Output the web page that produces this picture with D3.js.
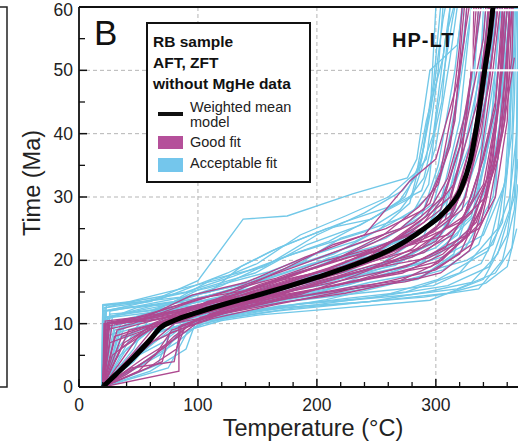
<!doctype html>
<html>
<head>
<meta charset="utf-8">
<style>
  body { margin: 0; background: #fff; font-family: 'Liberation Sans', Arial, sans-serif; }
  svg { display: block; }
  .grid line { stroke: #b5b5b5; stroke-width: 1; stroke-dasharray: 4 3; }
  .tick-label { font-size: 17.5px; fill: #222; }
  .axis-title { font-size: 23.5px; fill: #222; }
  .acc { fill: none; stroke: #72c8e8; stroke-width: 1.35; }
  .good { fill: none; stroke: #ae4990; stroke-width: 1.35; }
  .mean { fill: none; stroke: #000; stroke-width: 5; stroke-linejoin: round; }
  .leg-head { font-size: 15.5px; font-weight: bold; fill: #111; }
  .leg-text { font-size: 14.5px; fill: #222; }
</style>
<script src="https://d3js.org/d3.v7.min.js"></script>
</head>
<body>
<svg width="518" height="442"></svg>
<script>
// ticks
const tempMajor = [0, 100, 200, 300];
const tempMinor = [20, 40, 60, 80, 120, 140, 160, 180, 220, 240, 260, 280, 320, 340, 360];
const timeMajor = [0, 10, 20, 30, 40, 50, 60];
const timeMinor = [5, 15, 25, 35, 45, 55];
const gridTemp = [100, 200, 300];
const gridTime = [10, 20, 30, 40, 50];

// weighted mean model path [temperature, time]
const meanPath = [[20,0],[30,1.8],[45,4.5],[60,7.5],[68,9.3],[80,10.5],[100,11.8],[134,13.7],[152,14.6],
  [200,17.3],[230,19.2],[264,21.9],[290,25],[309,28],[321,31.2],[329,35.8],[335,42],[341,50],[345,55],[348,60]];

// acceptable fit paths
const acceptablePaths = [
  [[20,0],[21,12.5],[60,13.5],[100,16.8],[138,26.5],[175,27],[230,30.5],[276,33],[284,36],[295,50],[318,54],[323,60]],
  [[19,0],[22,11],[70,12.8],[110,14.5],[160,16],[220,18],[270,20],[300,23],[330,30],[352,45],[360,60]],
  [[20,0],[75,3],[92,9],[120,10.5],[152,11.4],[210,12.3],[295,13.7],[340,17],[360,24],[368,35],[369,60]],
  [[21,0],[24,8],[55,10.8],[100,12.5],[150,14],[200,16.5],[250,19],[290,24],[312,33],[330,48],[338,60]],
  [[20,0],[40,6],[70,10.5],[100,11.5],[160,13.5],[230,15.5],[285,17],[315,21],[335,32],[350,50],[355,60]],
  [[19,0],[20,13],[45,13.5],[90,15],[130,17.5],[180,21],[240,24.5],[270,28],[290,33],[305,45],[312,60]],
  [[20,0],[55,4],[88,8.5],[105,10],[140,11.8],[200,13],[260,14.5],[310,16],[345,19],[362,28],[366,45],[368,60]],
  [[22,0],[30,9],[65,11],[115,13.5],[170,15.5],[215,18.5],[255,22],[300,26],[322,36],[340,52],[344,60]],
  [[20,0],[23,12],[80,13.5],[120,16],[165,20],[210,23],[250,27],[280,30],[298,40],[308,55],[315,60]],
  [[20,0],[62,7],[95,10.5],[135,12.2],[190,14],[240,15.5],[290,17.5],[325,22],[348,30],[358,45],[363,60]],
  [[21,0],[35,10],[75,11.5],[105,13],[145,15],[195,17.5],[245,20.5],[282,25],[305,30],[320,42],[330,60]],
  [[20,0],[50,5],[80,9.5],[110,11],[160,12.5],[225,14],[275,15],[320,18],[352,25],[364,40],[367,60]],
  [[19,0],[21,10.5],[48,12.5],[100,14],[150,16.5],[205,20],[258,23.5],[288,27],[302,35],[316,50],[322,60]],
  [[20,0],[28,4],[60,9],[98,11],[150,13],[212,15.5],[262,18],[300,21],[332,27],[346,40],[352,55],[354,60]],
  [[20,0],[22,12],[70,14],[125,18],[168,22],[222,26],[262,28.5],[288,31],[300,38],[312,52],[318,60]],
  [[20,0],[72,5.5],[85,9],[115,11.5],[155,13],[235,14.8],[298,16],[338,19.5],[356,26],[362,38],[365,60]],
  [[21,0],[26,11.5],[58,12],[95,13.2],[140,14.8],[185,17],[232,20],[278,22.5],[310,26],[328,34],[342,46],[347,60]],
  [[20,0],[44,8],[78,10],[118,12.2],[172,14.2],[228,16.2],[268,18.5],[305,20.5],[340,24],[358,32],[364,50],[366,60]],
  [[20,0],[21,9],[52,11],[102,15.5],[148,18],[192,22.5],[236,25.5],[268,29],[286,34],[296,44],[306,58],[308,60]],
  [[20,0],[38,2],[82,7],[100,9.8],[128,11],[182,12.5],[245,13.5],[292,15],[330,16.5],[352,21],[366,30],[369,48]],
  [[20,0],[23,13],[42,13.2],[85,14.2],[112,17],[156,19],[200,24],[240,27.5],[272,31],[292,36],[302,50],[306,60]],
  [[21,0],[32,7.5],[68,10.2],[108,12],[162,14.4],[218,17],[264,20],[296,22.5],[322,29],[338,38],[350,58],[351,60]],
  [[20,0],[60,2.5],[90,6],[98,10.2],[132,11.5],[186,13.2],[252,14.2],[302,17],[344,21.5],[360,34],[366,55]],
  [[20,0],[22,11],[62,12.2],[104,14.8],[142,16.4],[178,19],[226,22],[270,25],[298,29],[314,40],[326,55],[330,60]],
  [[20,0],[30,10],[72,12.5],[118,14],[158,17.2],[196,19.5],[248,21.5],[284,24],[316,28],[334,40],[346,52],[350,60]],
  [[19,0],[46,4],[66,8.5],[100,10.8],[150,12],[208,13.8],[258,16],[306,18.5],[336,22.5],[350,30],[357,52],[358,60]],
  [[20,0],[20,12],[38,12.6],[78,13],[96,14.5],[128,15.8],[170,18.5],[214,21],[252,24.8],[278,29],[290,38],[298,48],[304,60]],
  [[20,0],[66,3.5],[80,10],[126,11.2],[168,12.8],[222,13.6],[280,14.6],[318,15.5],[350,18],[364,22],[369,32]],
  [[21,0],[24,11],[66,13],[90,13.4],[138,16],[188,19.8],[220,23.5],[246,25],[276,27],[296,30.5],[310,38],[318,46],[326,60]],
  [[20,0],[36,9.5],[64,12],[102,13],[154,15.5],[196,16.5],[252,18.2],[296,20],[326,24.5],[346,33],[354,42],[362,60]],
  [[20,0],[22,8],[60,10],[96,11],[146,13.4],[204,15],[238,17.5],[286,19.4],[318,24],[334,30.5],[344,38],[356,48],[360,60]],
  [[19,0],[20,12.8],[54,13.5],[108,15.6],[160,18.2],[202,21.2],[232,23],[262,25.8],[282,28],[294,32],[300,42],[314,58],[316,60]],
  [[20,0],[52,6.5],[70,9],[108,10.4],[166,12],[220,13],[270,14],[310,14.8],[342,16.4],[360,19],[368,25]],
  [[20,0],[24,10],[58,11.6],[106,12.4],[150,14.2],[214,16.4],[256,18.8],[300,22],[330,27],[342,36],[352,50],[358,60]],
  [[20,0],[26,12],[50,12.8],[110,15],[136,19],[162,21.5],[208,25],[246,26.5],[274,30],[288,36],[296,46],[300,60]],
  [[20,0],[46,6],[58,10.5],[112,12],[164,13.4],[206,14.8],[244,16.5],[288,18],[326,20],[348,22.5],[362,30],[368,40],[369,60]],
  [[21,0],[28,11],[62,11.8],[98,12.6],[136,13.8],[176,16],[216,17.2],[266,19.2],[304,24],[324,32],[336,44],[340,60]],
  [[20,0],[40,10.5],[76,12],[100,13.5],[142,15.2],[188,18.2],[226,21],[256,22.6],[288,24.5],[312,30],[328,38],[338,52],[342,60]],
  [[20,0],[30,3],[70,7],[90,10],[130,11.2],[174,12.6],[238,13.4],[290,14.2],[336,15.5],[356,20],[366,28],[369,36]],
  [[20,0],[22,12.5],[64,14.5],[118,17],[150,19.5],[186,24],[224,27],[260,30],[284,34],[292,42],[306,52],[312,60]],
  [[20,0],[34,6.5],[56,11],[92,12.2],[124,14.5],[166,16.8],[210,20.4],[254,21.6],[292,25.5],[308,28],[318,36],[332,48],[336,60]]
];

// good fit paths
const goodPaths = [
  [[20,0],[22,10],[60,11],[100,13],[150,15],[200,18],[250,21.5],[290,26],[315,32],[335,45],[345,60]],
  [[20,0],[40,4],[68,9.5],[100,11.5],[150,14],[205,16.5],[260,19.5],[300,23],[325,30],[345,48],[352,60]],
  [[20,0],[84,2.5],[84,9.5],[120,12],[175,15],[225,17],[275,19],[308,22],[332,30],[350,45],[358,60]],
  [[21,0],[25,10],[50,10.5],[95,14.5],[140,16.5],[190,20.5],[240,24],[278,32.5],[300,36],[318,48],[328,60]],
  [[20,0],[55,6],[80,10],[110,12],[160,14.2],[215,16],[265,18],[305,20],[338,26],[355,40],[362,60]],
  [[20,0],[30,8],[72,10.5],[105,12.8],[155,15.5],[210,18.8],[255,22],[292,27],[310,33],[326,44],[338,60]],
  [[20,0],[22,9],[45,10],[88,13],[130,15.5],[182,19],[232,22.5],[270,25],[295,29],[312,38],[324,55],[326,60]],
  [[20,0],[64,5],[78,9],[115,11.5],[170,13.8],[230,15.8],[286,17.2],[320,21],[342,30],[356,50],[360,60]],
  [[20,0],[35,6],[66,9.8],[98,12],[148,14.8],[198,17.5],[244,20],[284,23],[312,27],[330,36],[342,50],[348,60]],
  [[21,0],[24,10.2],[55,11.2],[100,14],[140,15.2],[185,18],[236,21],[276,24],[304,28],[320,38],[332,52],[336,60]],
  [[20,0],[50,2.5],[80,8],[102,11],[145,13],[195,15.2],[250,17.5],[296,19],[328,24],[348,36],[358,55],[360,60]],
  [[20,0],[28,5],[62,10],[92,12.5],[138,14.2],[180,16.8],[222,19.5],[262,23],[294,25.5],[318,30],[334,42],[344,58],[345,60]],
  [[20,0],[42,9],[70,10.2],[108,13.5],[158,16],[212,19.8],[256,24],[286,28.5],[302,32],[316,42],[322,56],[324,60]],
  [[20,0],[58,3],[82,6],[90,10],[125,12.5],[175,14.5],[228,16.5],[272,18],[306,21],[334,26],[352,36],[364,52],[365,60]],
  [[20,0],[23,10],[74,11.8],[112,13.2],[152,16.2],[202,19],[248,22.8],[282,26],[306,30],[324,40],[340,55],[342,60]],
  [[20,0],[38,7],[60,9.5],[96,11.2],[144,13.5],[192,15.8],[240,18.5],[280,20.5],[314,24],[340,32],[354,46],[356,60]],
  [[20,0],[26,10],[52,10.8],[86,12],[132,14.6],[178,17.8],[226,20.5],[268,22],[298,24.5],[322,28],[338,40],[350,56],[352,60]],
  [[20,0],[70,4],[76,8.5],[112,10.8],[165,13],[218,15],[262,16.8],[300,18.5],[330,22.5],[348,34],[360,48],[362,60]],
  [[20,0],[21,10],[58,10.4],[94,11.6],[146,14.6],[190,17],[242,19.6],[288,22],[310,25.5],[326,33],[338,44],[346,54],[350,60]],
  [[20,0],[46,5.5],[66,10],[104,12.2],[152,13.4],[202,16.6],[246,19.2],[290,21.2],[322,26],[340,36],[350,44],[356,60]],
  [[20,0],[24,9.6],[64,11],[100,12.6],[136,15.5],[172,18.6],[214,22.5],[258,25],[290,28],[304,34],[314,44],[320,54],[322,60]],
  [[20,0],[60,7],[86,9.2],[118,11.4],[162,14.5],[206,17],[254,19],[294,20.4],[322,23],[338,28],[352,38],[362,56],[364,60]],
  [[20,0],[32,9],[56,10.2],[92,12],[128,13.6],[168,15.2],[220,18],[264,21],[300,25],[318,31],[332,40],[340,50],[344,60]],
  [[21,0],[22,10.4],[48,11],[82,12.8],[122,15],[166,17.2],[208,20],[250,22],[286,24.5],[316,28.5],[330,34],[340,46],[346,56],[348,60]],
  [[20,0],[40,2],[74,6.5],[96,10.4],[134,12.2],[176,14],[224,15.4],[274,16.6],[304,18],[328,21.5],[344,28],[358,42],[362,60]],
  [[20,0],[26,7],[62,9.4],[100,10.8],[138,12.6],[186,14.6],[232,17.6],[276,20.8],[304,24.5],[324,27],[336,34],[348,50],[354,60]],
  [[20,0],[50,8],[72,10.6],[114,12.6],[148,14],[196,16],[246,18.8],[280,21.8],[308,26.5],[320,35],[328,46],[334,60]],
  [[20,0],[22,10],[40,10.2],[78,11.4],[120,13.8],[164,16.6],[208,18.4],[252,20.4],[292,23.6],[320,26],[342,30],[356,40],[366,52]],
  [[20,0],[54,4.5],[84,8],[110,11.6],[150,13.6],[188,15],[236,17],[282,19.6],[312,22.6],[336,25],[350,30],[360,42],[364,60]],
  [[20,0],[36,8],[68,10.2],[102,12],[140,14.8],[184,17.4],[234,19.4],[268,23.5],[296,27.5],[312,30],[322,37],[330,50],[332,60]],
  [[20,0],[28,10],[60,10.6],[110,12.2],[156,14.2],[204,17.8],[238,20.2],[282,22.6],[310,24],[330,27.5],[346,34],[354,46],[358,60]],
  [[20,0],[44,3],[80,4],[86,9.8],[122,11.6],[172,13.4],[224,14.8],[268,16.6],[302,19.6],[326,24],[342,32],[352,44],[358,60]]
];

const legendHead = ['RB sample', 'AFT, ZFT', 'without MgHe data'];

const svg = d3.select('svg');
const padLeft = 79, padTop = 7, padBottom = 387;

const x = d3.scaleLinear().domain([0, 380]).range([padLeft, padLeft + 380 * 1.1895]);
const y = d3.scaleLinear().domain([0, 60]).range([padBottom, padTop]);

// edge of the neighbouring panel
svg.append('path')
  .attr('d', `M0,${padTop} H7 V${padBottom} H0`)
  .attr('fill', 'none').attr('stroke', '#222').attr('stroke-width', 1.5);

svg.append('defs').append('clipPath').attr('id', 'plot')
  .append('rect').attr('x', padLeft).attr('y', padTop).attr('width', 518 - padLeft).attr('height', padBottom - padTop);

// grid
const grid = svg.append('g').attr('class', 'grid');
grid.selectAll('.gx').data(gridTemp).enter().append('line')
  .attr('x1', d => x(d)).attr('x2', d => x(d)).attr('y1', padTop).attr('y2', padBottom);
grid.selectAll('.gy').data(gridTime).enter().append('line')
  .attr('x1', padLeft).attr('x2', 518).attr('y1', d => y(d)).attr('y2', d => y(d));

const plot = svg.append('g').attr('clip-path', 'url(#plot)');
const line = d3.line().x(d => x(d[0])).y(d => y(d[1]));

plot.selectAll('.acc').data(acceptablePaths).enter().append('path')
  .attr('class', 'acc').attr('d', line);
plot.selectAll('.good').data(goodPaths).enter().append('path')
  .attr('class', 'good').attr('d', line);

// HP-LT box
plot.append('rect')
  .attr('x', x(330)).attr('y', y(59.5))
  .attr('width', x(385) - x(330)).attr('height', y(50) - y(59.5))
  .attr('fill', 'none').attr('stroke', '#fff').attr('stroke-width', 2.2);

const meanLine = d3.line().x(d => x(d[0])).y(d => y(d[1])).curve(d3.curveMonotoneX);
plot.append('path').attr('class', 'mean').attr('d', meanLine(meanPath));

// axes
const axis = svg.append('g').attr('stroke', '#111');
axis.append('line').attr('x1', padLeft).attr('x2', padLeft).attr('y1', padTop).attr('y2', padBottom).attr('stroke-width', 1.8);
axis.append('line').attr('x1', padLeft).attr('x2', 518).attr('y1', padBottom).attr('y2', padBottom).attr('stroke-width', 1.8);
axis.append('line').attr('x1', padLeft).attr('x2', 518).attr('y1', padTop).attr('y2', padTop).attr('stroke-width', 1.8);

axis.selectAll('.xM').data(tempMajor).enter().append('line')
  .attr('x1', d => x(d)).attr('x2', d => x(d)).attr('y1', padBottom).attr('y2', padBottom - 8).attr('stroke-width', 1.5);
axis.selectAll('.xm').data(tempMinor).enter().append('line')
  .attr('x1', d => x(d)).attr('x2', d => x(d)).attr('y1', padBottom).attr('y2', padBottom - 5).attr('stroke-width', 1.3);
axis.selectAll('.yM').data(timeMajor).enter().append('line')
  .attr('x1', padLeft).attr('x2', padLeft + 8).attr('y1', d => y(d)).attr('y2', d => y(d)).attr('stroke-width', 1.5);
axis.selectAll('.ym').data(timeMinor).enter().append('line')
  .attr('x1', padLeft).attr('x2', padLeft + 6).attr('y1', d => y(d)).attr('y2', d => y(d)).attr('stroke-width', 1.3);

svg.selectAll('.xl').data(tempMajor).enter().append('text')
  .attr('class', 'tick-label').attr('text-anchor', 'middle')
  .attr('x', d => x(d)).attr('y', 411).text(d => d);
svg.selectAll('.yl').data(timeMajor).enter().append('text')
  .attr('class', 'tick-label').attr('text-anchor', 'end')
  .attr('x', 73).attr('y', d => Math.max(y(d) + 6, 16)).text(d => d);

svg.append('text').attr('class', 'axis-title').attr('text-anchor', 'middle')
  .attr('x', 313).attr('y', 436).text('Temperature (°C)');
svg.append('text').attr('class', 'axis-title').attr('text-anchor', 'middle')
  .attr('transform', 'translate(40,183) rotate(-90)').text('Time (Ma)');

// panel letter and label
svg.append('text').attr('x', 94).attr('y', 45)
  .style('font-size', '35px').style('fill', '#111').text('B');
svg.append('text').attr('x', 392).attr('y', 47)
  .style('font-size', '20px').style('font-weight', 'bold').style('letter-spacing', '1px')
  .style('fill', '#111').text('HP-LT');

// legend
const leg = svg.append('g');
leg.append('rect').attr('x', 147).attr('y', 23).attr('width', 163).attr('height', 159)
  .attr('fill', '#fff').attr('stroke', '#111').attr('stroke-width', 2);
leg.selectAll('.lh').data(legendHead).enter().append('text')
  .attr('class', 'leg-head').attr('x', 153).attr('y', (d, i) => 47 + i * 21).text(d => d);
leg.append('line').attr('x1', 158).attr('x2', 183).attr('y1', 114).attr('y2', 114)
  .attr('stroke', '#111').attr('stroke-width', 4);
leg.append('rect').attr('x', 158).attr('y', 136).attr('width', 25).attr('height', 13).attr('fill', '#b5509a');
leg.append('rect').attr('x', 158).attr('y', 158).attr('width', 25).attr('height', 14).attr('fill', '#74c6ec');
leg.append('text').attr('class', 'leg-text').attr('x', 190).attr('y', 112).text('Weighted mean');
leg.append('text').attr('class', 'leg-text').attr('x', 190).attr('y', 127).text('model');
leg.append('text').attr('class', 'leg-text').attr('x', 190).attr('y', 147).text('Good fit');
leg.append('text').attr('class', 'leg-text').attr('x', 190).attr('y', 168).text('Acceptable fit');
</script>
</body>
</html>
